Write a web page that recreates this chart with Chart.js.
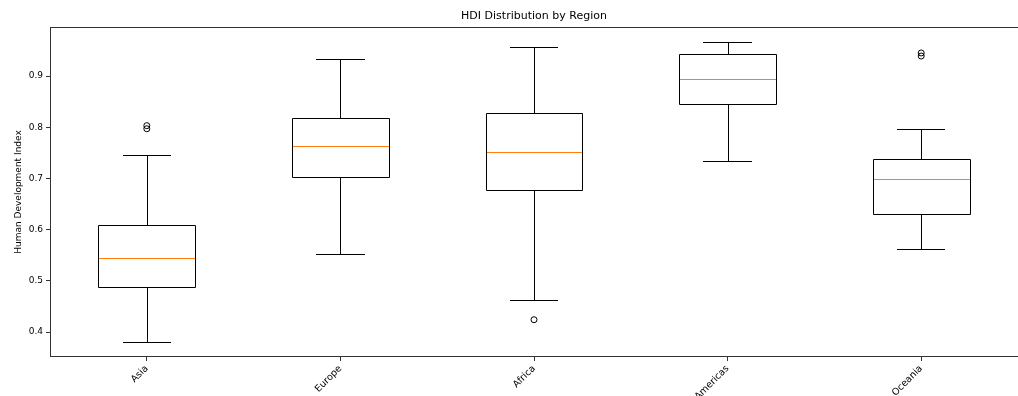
<!DOCTYPE html>
<html>
<head>
<meta charset="utf-8">
<title>HDI Distribution by Region</title>
<script src="https://cdn.jsdelivr.net/npm/chart.js@4"></script>
<style>
  html, body { margin: 0; padding: 0; background: #ffffff; overflow: hidden; }
  #wrap { width: 1018px; height: 396px; position: relative; }
  canvas { display: block; }
</style>
</head>
<body>
<div id="wrap"><canvas id="chart" width="1018" height="396"></canvas></div>
<script>
// Regions on the x axis
const regions = ['Asia', 'Europe', 'Africa', 'Americas', 'Oceania'];

// Box-plot statistics per region
const lowerWhisker = [0.380, 0.552, 0.462, 0.734, 0.562];
const q1Values     = [0.487, 0.703, 0.677, 0.845, 0.630];
const medianValues = [0.544, 0.763, 0.752, 0.894, 0.698];
const q3Values     = [0.609, 0.817, 0.828, 0.942, 0.737];
const upperWhisker = [0.746, 0.934, 0.956, 0.967, 0.797];

// Points beyond the whiskers
const outlierRegions = ['Asia', 'Asia', 'Africa', 'Oceania', 'Oceania'];
const outlierValues  = [0.803, 0.797, 0.424, 0.945, 0.939];

// Y axis range and tick labels
const yMin = 0.3512;
const yMax = 0.9957;
const yTicks = [0.4, 0.5, 0.6, 0.7, 0.8, 0.9];

const chartTitle = 'HDI Distribution by Region';

const FONT = "'DejaVu Sans', 'Liberation Sans', sans-serif";
const EDGE = '#000000';
const MEDIAN = '#ff7f0e';

// Box outlines, whiskers, caps, medians, frame and title, drawn with the chart scales
const boxPlotPlugin = {
  id: 'boxPlotParts',
  afterDatasetsDraw(chart) {
    const { ctx, scales: { y } } = chart;
    const bars = chart.getDatasetMeta(0).data;
    const px = v => Math.round(v) + 0.5;
    const py = v => Math.round(y.getPixelForValue(v)) + 0.5;
    ctx.save();
    ctx.lineWidth = 1;
    regions.forEach((r, i) => {
      const bar = bars[i];
      const cx = bar.x;
      const half = bar.width / 2;
      const capHalf = half / 2;
      const xc = px(cx);
      const left = px(cx - half);
      const right = px(cx + half);

      ctx.strokeStyle = EDGE;
      ctx.beginPath();
      ctx.rect(left, py(q3Values[i]), right - left, py(q1Values[i]) - py(q3Values[i]));
      ctx.moveTo(xc, py(q3Values[i]));
      ctx.lineTo(xc, py(upperWhisker[i]));
      ctx.moveTo(xc, py(q1Values[i]));
      ctx.lineTo(xc, py(lowerWhisker[i]));
      ctx.moveTo(Math.round(cx - capHalf), py(upperWhisker[i]));
      ctx.lineTo(Math.round(cx + capHalf), py(upperWhisker[i]));
      ctx.moveTo(Math.round(cx - capHalf), py(lowerWhisker[i]));
      ctx.lineTo(Math.round(cx + capHalf), py(lowerWhisker[i]));
      ctx.stroke();

      ctx.strokeStyle = MEDIAN;
      ctx.beginPath();
      ctx.moveTo(left + 0.5, py(medianValues[i]));
      ctx.lineTo(right - 0.5, py(medianValues[i]));
      ctx.stroke();
    });
    ctx.restore();
  },
  afterDraw(chart) {
    const { ctx, chartArea: a } = chart;
    ctx.save();
    ctx.strokeStyle = '#333333';
    ctx.lineWidth = 1;
    ctx.strokeRect(Math.round(a.left) + 0.5, Math.round(a.top) + 0.5,
                   Math.round(a.right - a.left), Math.round(a.bottom - a.top) - 1);
    ctx.fillStyle = '#000000';
    ctx.font = '11px ' + FONT;
    ctx.textAlign = 'center';
    ctx.textBaseline = 'middle';
    ctx.fillText(chartTitle, (a.left + a.right) / 2, 16.5);
    ctx.restore();
  }
};

new Chart(document.getElementById('chart'), {
  type: 'bar',
  data: {
    labels: regions,
    datasets: [
      {
        type: 'bar',
        data: regions.map((r, i) => [q1Values[i], q3Values[i]]),
        backgroundColor: '#ffffff',
        borderWidth: 0,
        categoryPercentage: 1.0,
        barPercentage: 0.5,
        order: 2
      },
      {
        type: 'line',
        data: outlierValues.map((v, i) => ({ x: outlierRegions[i], y: v })),
        showLine: false,
        pointRadius: 3,
        pointBorderWidth: 1,
        pointBorderColor: '#000000',
        pointBackgroundColor: 'rgba(0,0,0,0)',
        order: 1
      }
    ]
  },
  options: {
    responsive: false,
    animation: false,
    events: [],
    layout: { autoPadding: false, padding: { left: 0, right: 0, top: 27, bottom: 0 } },
    plugins: {
      legend: { display: false },
      tooltip: { enabled: false },
      title: { display: false }
    },
    scales: {
      x: {
        type: 'category',
        offset: true,
        border: { display: false },
        grid: {
          display: true,
          offset: false,
          drawOnChartArea: false,
          drawTicks: true,
          tickLength: 4,
          color: '#333333'
        },
        ticks: {
          color: '#000000',
          font: { family: FONT, size: 9.5 },
          minRotation: 45,
          maxRotation: 45,
          autoSkip: false,
          padding: 2
        },
        afterFit(scale) {
          scale.height = 39;
          scale.paddingLeft = 0;
          scale.paddingRight = 0;
        }
      },
      y: {
        type: 'linear',
        min: yMin,
        max: yMax,
        border: { display: false },
        grid: {
          display: true,
          drawOnChartArea: false,
          drawTicks: true,
          tickLength: 4,
          color: '#333333'
        },
        ticks: {
          color: '#000000',
          font: { family: FONT, size: 9 },
          padding: 3,
          callback: v => v.toFixed(1)
        },
        afterBuildTicks(scale) {
          scale.ticks = yTicks.map(v => ({ value: v }));
        },
        title: {
          display: true,
          text: 'Human Development Index',
          color: '#000000',
          font: { family: FONT, size: 9 },
          padding: { top: 13.5, bottom: 0 }
        },
        afterFit(scale) {
          scale.width = 50;
          scale.paddingTop = 0;
          scale.paddingBottom = 0;
        }
      }
    }
  },
  plugins: [boxPlotPlugin]
});
</script>
</body>
</html>
